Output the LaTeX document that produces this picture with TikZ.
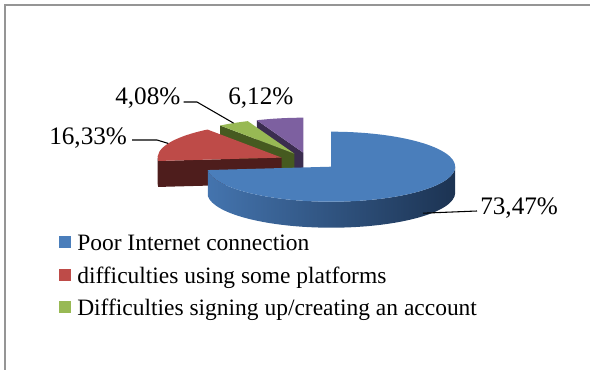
\documentclass[tikz,border=0pt]{standalone}
\usepackage{fontspec}
\setmainfont{Liberation Serif}
\usepackage{xcolor}
\usetikzlibrary{calc, positioning}

\definecolor{pieblue}{HTML}{4A7EBB}
\definecolor{pieblueside}{HTML}{4474AE}
\definecolor{piebluedark}{HTML}{1C3352}
\definecolor{piered}{HTML}{BE4B48}
\definecolor{pieredside}{HTML}{4E1D1C}
\definecolor{piegreen}{HTML}{98B954}
\definecolor{piegreenside}{HTML}{465A20}
\definecolor{piepurple}{HTML}{7D60A0}
\definecolor{piepurpleside}{HTML}{3B2D4F}
\definecolor{framegray}{HTML}{959595}

\begin{document}
\begin{tikzpicture}[
    x=0.75pt, y=0.75pt,
    pct/.style={inner sep=0pt, anchor=base west, font=\fontsize{18.9pt}{22pt}\selectfont},
    legtext/.style={inner sep=0pt, anchor=base west, font=\fontsize{17.6pt}{21pt}\selectfont},
    swatch/.style={inner sep=0pt, minimum size=9pt},
    leader/.style={line width=0.8pt, black}
]
\useasboundingbox (0,0) rectangle (590,-370);
\draw[framegray, line width=1.5pt] (5,-370) -- (5,-5) -- (590,-5);

% slice apexes (exploded)
\coordinate (purpleC) at (303.3,-152.7);
\coordinate (greenC) at (294.3,-153.6);
\coordinate (redC) at (281.6,-157.6);
\coordinate (blueC) at (331.2,-166.7);

% purple
\fill[piepurpleside] (purpleC) -- ++(112.03:124 and 35) -- ++(0,-26) -- ($(purpleC)+(0,-26)$) -- cycle;
\fill[piepurple] (purpleC) -- ++(90:124 and 35) arc[start angle=90, end angle=112.03, x radius=124, y radius=35] -- cycle;
% green
\fill[piegreenside] (greenC) -- ++(126.72:124 and 35) -- ++(0,-26) -- ($(greenC)+(0,-26)$) -- cycle;
\fill[piegreen] (greenC) -- ++(112.03:124 and 35) arc[start angle=112.03, end angle=126.72, x radius=124, y radius=35] -- cycle;
% red
\fill[pieredside] (redC) -- ++(185.51:124 and 35) -- ++(0,-26) -- ($(redC)+(0,-26)$) -- cycle;
\fill[pieredside] ($(redC)+(180:124 and 35)$) arc[start angle=180, end angle=185.51, x radius=124, y radius=35] -- ++(0,-26) arc[start angle=185.51, end angle=180, x radius=124, y radius=35] -- cycle;
\fill[piered] (redC) -- ++(126.72:124 and 35) arc[start angle=126.72, end angle=185.51, x radius=124, y radius=35] -- cycle;
% blue
\shade[left color=pieblueside, middle color=pieblueside!80!piebluedark, right color=piebluedark] ($(blueC)+(-174.49:124 and 35)$) arc[start angle=-174.49, end angle=0, x radius=124, y radius=35] -- ++(0,-26) arc[start angle=0, end angle=-174.49, x radius=124, y radius=35] -- cycle;
\fill[pieblue] (blueC) -- ++(90:124 and 35) arc[start angle=90, end angle=-174.49, x radius=124, y radius=35] -- cycle;

% data labels
\node[pct] (lblue) at (480,-215) {73,47\%};
\node[pct] (lred) at (49,-145) {16,33\%};
\node[pct] (lgreen) at (115,-105) {4,08\%};
\node[pct] (lpurple) at (228,-105) {6,12\%};

\draw[leader] ($(blueC)+(91.8,-46.5)$) -- ($(lblue.base west)+(-3,4)$);
\draw[leader] ($(lred.base east)+(5,5)$) -- (157,-140) -- ($(redC)+(156.1:124 and 35)$);
\draw[leader] ($(lgreen.base east)+(3,3)$) -- (197,-102) -- ($(greenC)+(119.35:124 and 35)$);

% legend
\node[legtext] (leg1) at (77,-251) {Poor Internet connection};
\node[legtext] (leg2) at (77,-283.5) {difficulties using some platforms};
\node[legtext] (leg3) at (77,-316) {Difficulties signing up/creating an account};
\node[swatch, fill=pieblue] (sq1) at (65,-242.5) {};
\node[swatch, fill=piered] (sq2) at (65,-275) {};
\node[swatch, fill=piegreen] (sq3) at (65,-307.5) {};
\end{tikzpicture}
\end{document}
